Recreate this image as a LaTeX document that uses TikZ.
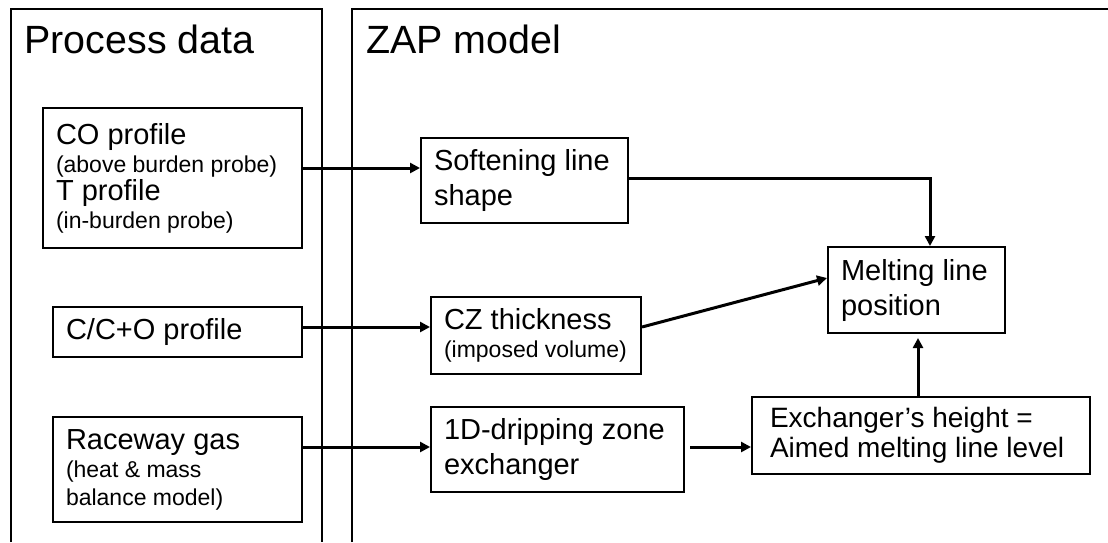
\documentclass[tikz,border=0pt]{standalone}
\usepackage{fontspec}
\setmainfont{Liberation Sans}
\usetikzlibrary{arrows.meta}
\newcommand{\sm}[1]{{\fontsize{11.5}{14}\selectfont #1}}
\begin{document}
\begin{tikzpicture}[x=0.5pt,y=-0.5pt,
  box/.style={draw,line width=1pt,align=flush left,inner xsep=6.5pt,font=\fontsize{14.5}{17.5}\selectfont},
  mixbox/.style={box,font=\fontsize{14.5}{14}\selectfont},
  title/.style={anchor=base west,inner sep=0pt,font=\fontsize{19.7}{23}\selectfont},
  link/.style={->,line width=1.5pt},
  >={Triangle[length=5pt,width=5pt]}]
\useasboundingbox (0,0) rectangle (1108,542);
\draw[line width=1pt] (11,542) -- (11,9) -- (322,9) -- (322,542);
\draw[line width=1pt] (352,542) -- (352,9) -- (1108,9);
\node[title] (p) at (24,53) {Process data};
\node[title] (z) at (366,53) {ZAP model};
\node[mixbox,text width=116.5pt,minimum height=70pt] (a) at (172.5,178) {CO profile\\\sm{(above burden probe)}\\T profile\\\sm{(in-burden probe)}};
\node[mixbox,text width=111.5pt,minimum height=25pt] (b) at (177.5,332) {C/C+O profile};
\node[mixbox,text width=111.5pt,minimum height=52.5pt] (c) at (177.5,469.5) {Raceway gas\\\sm{(heat \& mass\\balance model)}};
\node[box,text width=90.5pt,minimum height=42.5pt] (d) at (524.5,180.5) {Softening line\\shape};
\node[mixbox,text width=92pt,minimum height=38.5pt] (e) at (536,335.5) {CZ thickness\\\sm{(imposed volume)}};
\node[box,text width=113.5pt,minimum height=42.5pt] (f) at (557.5,449.5) {1D-dripping zone\\exchanger};
\node[box,text width=75.5pt,minimum height=43pt] (g) at (916.5,290) {Melting line\\position};
\node[box,text width=151pt,inner xsep=9pt,minimum height=38.5pt,font=\fontsize{14}{15}\selectfont] (h) at (921,435.5) {Exchanger’s height =\\Aimed melting line level};
\draw[link] ([yshift=5pt]a.east) -- ([yshift=5pt]a.east -| d.west);
\draw[link] ([yshift=1.25pt]d.east) -| ([xshift=6.75pt]g.north);
\draw[link] ([yshift=2.5pt]b.east) -- ([yshift=2.5pt]b.east -| e.west);
\draw[link] ([yshift=4.25pt]e.east) -- ([yshift=6pt]g.west);
\draw[link] ([yshift=11.25pt]c.east) -- ([yshift=11.25pt]c.east -| f.west);
\draw[link,shorten <=2.5pt] ([yshift=1.25pt]f.east) -- ([yshift=1.25pt]f.east -| h.west);
\draw[link,shorten >=2pt] ([xshift=-1.5pt]h.north) -- ([xshift=-1.5pt]h.north |- g.south);
\end{tikzpicture}
\end{document}
